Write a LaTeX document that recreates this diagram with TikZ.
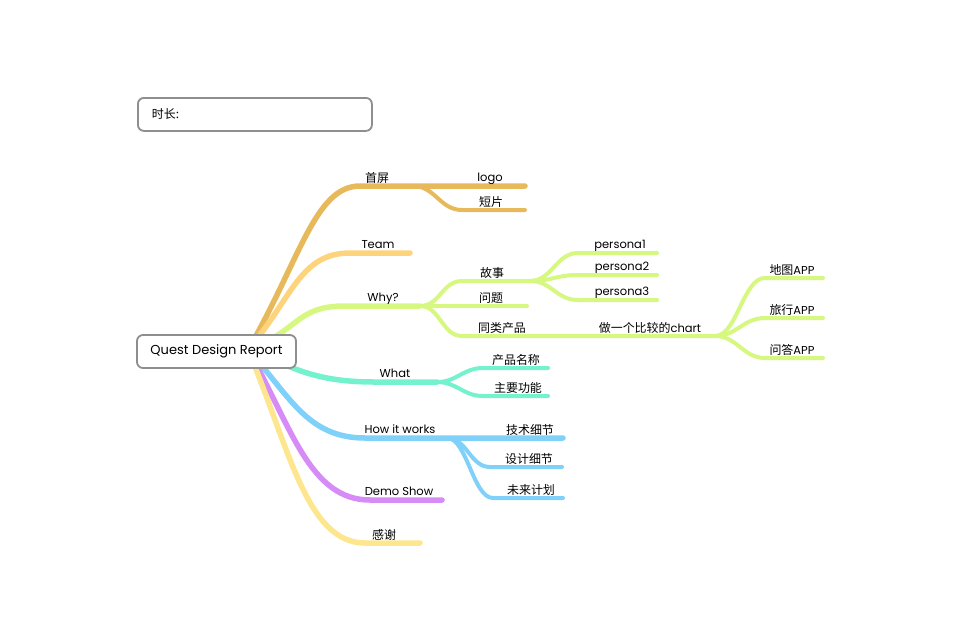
\documentclass[tikz,border=0pt]{standalone}
\usepackage{fontspec}
\setmainfont{Poppins}
\newfontfamily\cjk{Noto Sans CJK SC}[Scale=1.04]
\newcommand{\zw}[1]{{\cjk #1}}
\definecolor{cGold}{HTML}{E7B95B}
\definecolor{cOrange}{HTML}{FDD47C}
\definecolor{cLime}{HTML}{D6F881}
\definecolor{cAqua}{HTML}{74F2CD}
\definecolor{cSky}{HTML}{80D1F9}
\definecolor{cPurple}{HTML}{D78BF7}
\definecolor{cYellow}{HTML}{FDE68D}
\definecolor{boxgray}{HTML}{8E8E8E}
\begin{document}
\begin{tikzpicture}[x=1pt,y=-1pt,
    lbl/.style={anchor=base, inner sep=0pt, font=\fontsize{11.5}{13}\selectfont},
    box/.style={draw=boxgray, line width=1.8pt, rounded corners=6pt, fill=white},
    trunk/.style={line width=5.5pt, line cap=round},
    twig/.style={line width=4pt, line cap=round}]
    \useasboundingbox (0,0) rectangle (960,640);

    % knots of the branches
    \coordinate (o) at (248,350);
    \coordinate (sp-a) at (360,186);  \coordinate (sp-k) at (413,186);  \coordinate (logo-e) at (525,186);
    \coordinate (dp-a) at (462,210);  \coordinate (dp-e) at (525,210);
    \coordinate (team-a) at (350,253); \coordinate (team-e) at (410,253);
    \coordinate (why-a) at (345,306); \coordinate (why-k) at (420,306);
    \coordinate (gs-a) at (462,281);  \coordinate (gs-k) at (530,281);
    \coordinate (p1-a) at (578,253);  \coordinate (p1-e) at (657,253);
    \coordinate (p2-a) at (578,275);  \coordinate (p2-e) at (657,275);
    \coordinate (p3-a) at (578,300);  \coordinate (p3-e) at (657,300);
    \coordinate (wt-e) at (527,306);
    \coordinate (tl-a) at (462,336);  \coordinate (tl-k) at (715,336);
    \coordinate (dt-a) at (765,278);  \coordinate (dt-e) at (823,278);
    \coordinate (lx-a) at (765,318);  \coordinate (lx-e) at (823,318);
    \coordinate (wd-a) at (765,358);  \coordinate (wd-e) at (823,358);
    \coordinate (what-a) at (375,382); \coordinate (what-k) at (437,382);
    \coordinate (mc-a) at (483,368);  \coordinate (mc-e) at (548,368);
    \coordinate (gn-a) at (483,396);  \coordinate (gn-e) at (548,396);
    \coordinate (how-a) at (365,438); \coordinate (how-k) at (447,438); \coordinate (js-e) at (563,438);
    \coordinate (sj-a) at (490,467);  \coordinate (sj-e) at (562,467);
    \coordinate (jh-a) at (493,498);  \coordinate (jh-e) at (563,498);
    \coordinate (demo-a) at (370,500); \coordinate (demo-e) at (442,500);
    \coordinate (gx-a) at (365,543);  \coordinate (gx-e) at (420,543);

    % 首屏
    \draw[trunk, cGold] (o) .. controls +(52,-90) and +(-45,0) .. (sp-a) -- (logo-e);
    \draw[twig, cGold] (sp-k) .. controls +(22,0) and +(-22,0) .. (dp-a) -- (dp-e);
    % Team
    \draw[trunk, cOrange] (o) .. controls +(44,-52) and +(-50,0) .. (team-a) -- (team-e);
    % Why?
    \draw[trunk, cLime] (o) .. controls +(52,-20) and +(-49,0) .. (why-a) -- (why-k);
    \draw[twig, cLime] (why-k) .. controls +(20,0) and +(-20,0) .. (gs-a) -- (gs-k);
    \draw[twig, cLime] (why-k) -- (wt-e);
    \draw[twig, cLime] (why-k) .. controls +(20,0) and +(-20,0) .. (tl-a) -- (tl-k);
    \draw[twig, cLime] (gs-k) .. controls +(22,0) and +(-22,0) .. (p1-a) -- (p1-e);
    \draw[twig, cLime] (gs-k) .. controls +(22,0) and +(-22,0) .. (p2-a) -- (p2-e);
    \draw[twig, cLime] (gs-k) .. controls +(22,0) and +(-22,0) .. (p3-a) -- (p3-e);
    \draw[twig, cLime] (tl-k) .. controls +(22,0) and +(-22,0) .. (dt-a) -- (dt-e);
    \draw[twig, cLime] (tl-k) .. controls +(22,0) and +(-22,0) .. (lx-a) -- (lx-e);
    \draw[twig, cLime] (tl-k) .. controls +(22,0) and +(-22,0) .. (wd-a) -- (wd-e);
    % What
    \draw[trunk, cAqua] (o) .. controls +(44,16) and +(-64,0) .. (what-a) -- (what-k);
    \draw[twig, cAqua] (what-k) .. controls +(20,0) and +(-20,0) .. (mc-a) -- (mc-e);
    \draw[twig, cAqua] (what-k) .. controls +(20,0) and +(-20,0) .. (gn-a) -- (gn-e);
    % How it works
    \draw[trunk, cSky] (o) .. controls +(41,44) and +(-59,0) .. (how-a) -- (js-e);
    \draw[twig, cSky] (how-k) .. controls +(20,0) and +(-20,0) .. (sj-a) -- (sj-e);
    \draw[twig, cSky] (how-k) .. controls +(20,0) and +(-20,0) .. (jh-a) -- (jh-e);
    % Demo Show, 感谢
    \draw[trunk, cPurple] (o) .. controls +(43,75) and +(-61,0) .. (demo-a) -- (demo-e);
    \draw[trunk, cYellow] (o) .. controls +(41,96) and +(-59,0) .. (gx-a) -- (gx-e);

    % boxes
    \node[box, minimum width=159pt, minimum height=33pt, font=\fontsize{13}{15}\selectfont] (root) at (216.5,351.5) {Quest Design Report};
    \node[box, anchor=north west, minimum height=33pt, text width=206pt, inner xsep=14pt, align=left, font=\fontsize{11.5}{13}\selectfont] (duration) at (137,97) {\zw{时长:}};

    % labels
    \node[lbl] (shouping) at (377,182) {\zw{首屏}};
    \node[lbl] (logo) at (490,181) {logo};
    \node[lbl] (duanpian) at (491,206) {\zw{短片}};
    \node[lbl] (team) at (378,248) {Team};
    \node[lbl] (why) at (383,301) {Why?};
    \node[lbl] (gushi) at (492,277) {\zw{故事}};
    \node[lbl] (wenti) at (491,302) {\zw{问题}};
    \node[lbl] (tonglei) at (502,332) {\zw{同类产品}};
    \node[lbl] (persona1) at (620,248) {persona1};
    \node[lbl] (persona2) at (622,270) {persona2};
    \node[lbl] (persona3) at (622,295) {persona3};
    \node[lbl] (chart) at (650,332) {\zw{做一个比较的}chart};
    \node[lbl] (ditu) at (792,274) {\zw{地图}APP};
    \node[lbl] (lvxing) at (792,314) {\zw{旅行}APP};
    \node[lbl] (wenda) at (792,354) {\zw{问答}APP};
    \node[lbl] (what) at (395,377) {What};
    \node[lbl] (mingcheng) at (516,364) {\zw{产品名称}};
    \node[lbl] (gongneng) at (518,392) {\zw{主要功能}};
    \node[lbl] (how) at (400,433) {How it works};
    \node[lbl] (jishu) at (530,434) {\zw{技术细节}};
    \node[lbl] (sheji) at (529,463) {\zw{设计细节}};
    \node[lbl] (jihua) at (531,494) {\zw{未来计划}};
    \node[lbl] (demo) at (399,495) {Demo Show};
    \node[lbl] (ganxie) at (384,539) {\zw{感谢}};
\end{tikzpicture}
\end{document}
